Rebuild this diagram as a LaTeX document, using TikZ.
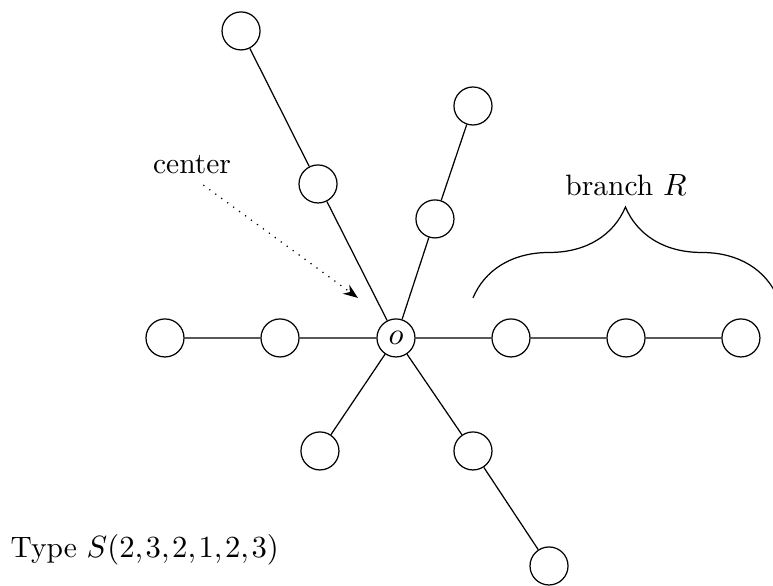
\documentclass[tikz,border=0pt]{standalone}
\usetikzlibrary{arrows.meta,decorations.pathreplacing}
\tikzset{
    vtx/.style={draw, circle, minimum size=0.435cm, inner sep=0pt},
}
\begin{document}
\begin{tikzpicture}[font={\fontsize{9.6}{11.5}\selectfont}]
                \useasboundingbox (-4.531,-2.838) rectangle (4.314,3.867);
                \node[vtx] (o) at (0,0) {$o$};
                \node[vtx] (r1) at (1.316,0) {};
                \node[vtx] (r2) at (2.632,0) {};
                \node[vtx] (r3) at (3.947,0) {};
                \node[vtx] (l1) at (-1.327,0) {};
                \node[vtx] (l2) at (-2.643,0) {};
                \node[vtx] (ul1) at (-0.892,1.762) {};
                \node[vtx] (ul2) at (-1.773,3.513) {};
                \node[vtx] (ur1) at (0.446,1.362) {};
                \node[vtx] (ur2) at (0.881,2.654) {};
                \node[vtx] (ll1) at (-0.870,-1.293) {};
                \node[vtx] (lr1) at (0.881,-1.293) {};
                \node[vtx] (lr2) at (1.751,-2.609) {};
                \draw
                    (o) -- (r1) -- (r2) -- (r3)
                    (o) -- (l1) -- (l2)
                    (o) -- (ul1) -- (ul2)
                    (o) -- (ur1) -- (ur2)
                    (o) -- (ll1)
                    (o) -- (lr1) -- (lr2)
                ;
                % the branch to the right
                \draw[decorate, decoration={brace, amplitude=1.04cm}]
                    (0.881,0.458) -- (4.37,0.458);
                \node (branch) at (2.632,1.75) {branch $R$};
                % pointer to the center
                \node (centerlbl) at (-2.334,1.979) {center};
                \coordinate (tip) at (-0.435,0.458);
                \draw[dotted, -{Stealth}] ([xshift=0.13cm]centerlbl.south) -- (tip);
                \node[anchor=west, inner sep=0pt] (type) at (-4.417,-2.426) {\thinmuskip=1.5mu Type $S(2,3,2,1,2,3)$};
            \end{tikzpicture}
\end{document}
